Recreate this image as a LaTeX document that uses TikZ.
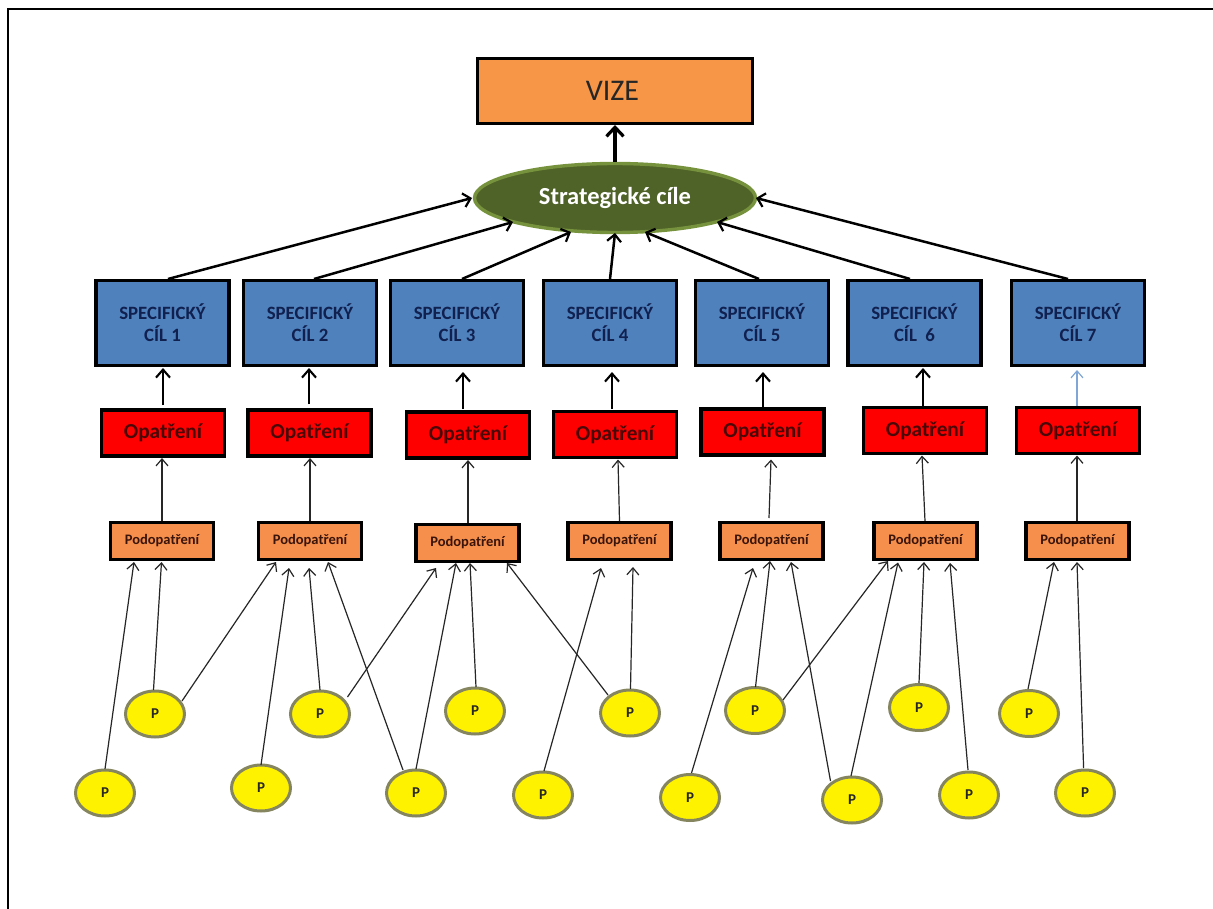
\documentclass[tikz,border=0pt]{standalone}
\usepackage{fontspec}
\setmainfont{Carlito}
\usetikzlibrary{shapes.geometric,arrows.meta}
\definecolor{orangeV}{HTML}{F79646}
\definecolor{orangeP}{HTML}{F58F4B}
\definecolor{greenF}{HTML}{4F6228}
\definecolor{greenB}{HTML}{76923C}
\definecolor{blueF}{HTML}{4F81BD}
\definecolor{blueT}{HTML}{10204F}
\definecolor{blueA}{HTML}{7FA6D6}
\definecolor{redT}{HTML}{4A0808}
\definecolor{podT}{HTML}{3A140A}
\definecolor{ringP}{HTML}{85855F}
\newcommand{\cn}[5][thinarrow]{\draw[#1] ([shift={(#3)}]#2.center) -- ([shift={(#5)}]#4.center);}
\tikzset{
  x=1pt,y=-1pt,
  vizebox/.style={draw=black,line width=3.4pt,fill=orangeV,minimum width=275pt,minimum height=65pt,inner sep=0pt,font=\fontsize{30}{32}\selectfont,text=black!85},
  goal/.style={ellipse,draw=greenB,line width=3.4pt,fill=greenF,minimum width=281pt,minimum height=69pt,inner sep=0pt,text=white,font=\fontsize{24.5}{26}\selectfont\bfseries},
  spec/.style={draw=black,line width=3.4pt,fill=blueF,minimum width=133pt,minimum height=85pt,inner sep=0pt,align=center,text=blueT,font=\fontsize{18.8}{22}\selectfont\bfseries},
  measure/.style={draw=black,line width=3.4pt,fill=red,minimum width=123pt,minimum height=46pt,inner sep=0pt,text=redT,font=\fontsize{21.3}{23}\selectfont\bfseries},
  submeasure/.style={draw=black,line width=3.4pt,fill=orangeP,minimum width=103pt,minimum height=37pt,inner sep=0pt,text=podT,font=\fontsize{14.5}{16}\selectfont\bfseries},
  pcircle/.style={ellipse,draw=ringP,line width=3pt,fill=yellow,minimum width=59pt,minimum height=46pt,inner sep=0pt,text=black!85,font=\fontsize{15}{17}\selectfont\bfseries},
  thinarrow/.style={draw=black!85,line width=1.2pt,-{Straight Barb[length=7pt,width=12pt,line width=1.2pt]}},
  midarrow/.style={draw=black,line width=2.1pt,-{Straight Barb[length=8pt,width=14pt,line width=2.1pt]}},
  lightarrow/.style={draw=blueA,line width=1.2pt,-{Straight Barb[length=7pt,width=12pt,line width=1.2pt]}},
  goalarrow/.style={draw=black,line width=2.5pt,-{Straight Barb[length=7pt,width=14pt,line width=2.2pt]}},
  topa/.style={draw=black,line width=3.8pt,-{Straight Barb[length=9pt,width=17pt,line width=3.2pt]}},
  frameline/.style={draw=black,line width=2.6pt}
}
\begin{document}
\begin{tikzpicture}
\useasboundingbox (0,0) rectangle (1213,909);
\fill[white] (0,0) rectangle (1213,909);
\draw[frameline] (8,909) -- (8,9) -- (1213,9);

\node[vizebox] (vize) at (615,91) {\hspace{-5pt}VIZE};
\node[goal] (goal) at (615,198) {Strategické cíle};

\node[spec] (s1) at (162.5,323) {SPECIFICKÝ\\CÍL 1};
\node[spec] (s2) at (310,323) {SPECIFICKÝ\\CÍL 2};
\node[spec] (s3) at (457,323) {SPECIFICKÝ\\CÍL 3};
\node[spec] (s4) at (610,323) {SPECIFICKÝ\\CÍL 4};
\node[spec] (s5) at (762,323) {SPECIFICKÝ\\CÍL 5};
\node[spec] (s6) at (914.5,323) {SPECIFICKÝ\\CÍL\ \ 6};
\node[spec] (s7) at (1078,323) {SPECIFICKÝ\\CÍL 7};

\node[measure] (r1) at (163,433) {Opatření};
\node[measure] (r2) at (309.5,433) {Opatření};
\node[measure] (r3) at (468,435) {Opatření};
\node[measure] (r4) at (615,434.5) {Opatření};
\node[measure] (r5) at (762.5,432) {Opatření};
\node[measure] (r6) at (925,430.5) {Opatření};
\node[measure] (r7) at (1078,430.5) {Opatření};

\node[submeasure] (o1) at (162,541) {Podopatření};
\node[submeasure] (o2) at (310,541) {Podopatření};
\node[submeasure] (o3) at (467.5,543) {Podopatření};
\node[submeasure] (o4) at (619.5,541) {Podopatření};
\node[submeasure] (o5) at (771.5,541) {Podopatření};
\node[submeasure] (o6) at (925.5,541) {Podopatření};
\node[submeasure] (o7) at (1077.5,541) {Podopatření};

\node[pcircle] (a) at (105,793) {P\hspace{4pt}};
\node[pcircle] (b) at (155,714) {P\hspace{4pt}};
\node[pcircle] (c) at (261,788) {P\hspace{4pt}};
\node[pcircle] (d) at (320,714) {P\hspace{4pt}};
\node[pcircle] (e) at (475,711) {P\hspace{4pt}};
\node[pcircle] (f) at (416,793) {P\hspace{4pt}};
\node[pcircle] (g) at (543,795) {P\hspace{4pt}};
\node[pcircle] (h) at (630,713) {P\hspace{4pt}};
\node[pcircle] (i) at (690,797.5) {P\hspace{4pt}};
\node[pcircle] (j) at (755,710.5) {P\hspace{4pt}};
\node[pcircle] (k) at (852,800) {P\hspace{4pt}};
\node[pcircle] (l) at (919,707.5) {P\hspace{4pt}};
\node[pcircle] (m) at (969,795) {P\hspace{4pt}};
\node[pcircle] (n) at (1029,713.5) {P\hspace{4pt}};
\node[pcircle] (o) at (1085,793) {P\hspace{4pt}};

\cn[topa]{goal}{0,-36}{vize}{0,34}
\cn[goalarrow]{s1}{5.5,-44}{goal}{-143,0}
\cn[goalarrow]{s2}{4,-44}{goal}{-102,24}
\cn[goalarrow]{s3}{5,-44}{goal}{-44,34}
\cn[goalarrow]{s4}{0,-44}{goal}{0,35}
\cn[goalarrow]{s5}{-3,-44}{goal}{30,34}
\cn[goalarrow]{s6}{-4.5,-44}{goal}{102,24}
\cn[goalarrow]{s7}{-10,-44}{goal}{141,0}

\cn[midarrow]{r1}{0,-28}{s1}{0.5,45}
\cn[midarrow]{r2}{-0.5,-29}{s2}{-1,45}
\cn[midarrow]{r3}{-5,-26}{s3}{6,49}
\cn[midarrow]{r4}{-3,-25.5}{s4}{2,49}
\cn[midarrow]{r5}{0.5,-24}{s5}{1,49}
\cn[midarrow]{r6}{-2,-24.5}{s6}{8.5,45}
\cn[lightarrow]{r7}{-1,-24.5}{s7}{-1,47}

\cn{o1}{0,-20}{r1}{-1,25}
\cn{o2}{0,-20}{r2}{0.5,25}
\cn{o3}{0.5,-20}{r3}{0,25}
\cn{o4}{0,-20}{r4}{3,25}
\cn{o5}{-2.5,-23}{r5}{8.5,27.5}
\cn{o6}{-0.5,-20}{r6}{-3,25}
\cn{o7}{-0.5,-20}{r7}{-1,25}

\cn{a}{0,-24}{o1}{-28,21}
\cn{b}{-1.5,-24}{o1}{-0.5,21}
\cn{b}{27,-13}{o2}{-34,21}
\cn{c}{0,-23}{o2}{-21,27}
\cn{d}{0,-24}{o2}{-1,27}
\cn{f}{-13,-23}{o2}{18,21}
\cn{d}{27.5,-17}{o3}{-31.5,25}
\cn{f}{0,-24}{o3}{-11.5,20}
\cn{e}{1,-24}{o3}{2.5,20}
\cn{h}{-22,-18}{o3}{39.5,20}
\cn{g}{1,-24}{o4}{-18.5,27}
\cn{h}{0.5,-24}{o4}{13.5,26}
\cn{i}{1.5,-24.5}{o5}{-18.5,27}
\cn{j}{0.5,-23.5}{o5}{-1.5,20}
\cn{k}{-21.5,-19}{o5}{19.5,21}
\cn{j}{28,-10.5}{o6}{-37.5,20}
\cn{k}{-1,-24}{o6}{-27.5,21.5}
\cn{l}{0,-24.5}{o6}{-1.5,21}
\cn{m}{-1,-25}{o6}{24.5,22}
\cn{n}{-1,-24.5}{o7}{-23.5,21}
\cn{o}{-1.4,-25}{o7}{-0.5,21}
\end{tikzpicture}
\end{document}
